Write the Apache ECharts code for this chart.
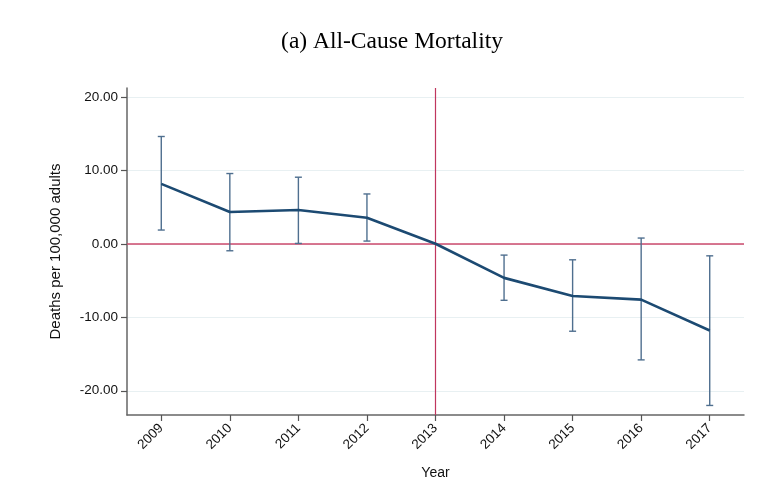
<!DOCTYPE html>
<html>
<head>
<meta charset="utf-8">
<script src="https://cdn.jsdelivr.net/npm/echarts@6/dist/echarts.min.js"></script>
<style>html,body{margin:0;padding:0;background:#fff;}#c{width:784px;height:495px;}</style>
</head>
<body>
<div id="c"></div>
<script>
const years = ['2009','2010','2011','2012','2013','2014','2015','2016','2017'];
const estimate = [8.15, 4.33, 4.6, 3.55, 0, -4.64, -7.1, -7.6, -11.8];
const upper = [14.6, 9.56, 9.06, 6.78, null, -1.54, -2.18, 0.78, -1.64];
const lower = [1.87, -0.95, 0.05, 0.37, null, -7.69, -11.9, -15.8, -22.0];
const yTicks = [-20, -10, 0, 10, 20];

const chart = echarts.init(document.getElementById('c'), null, {renderer: 'canvas'});
const errData = years.map((y, i) => [i, lower[i], upper[i]]).filter(d => d[1] !== null);

chart.setOption({
  backgroundColor: '#fff',
  animation: false,
  title: {
    text: '(a) All-Cause Mortality',
    left: 'center',
    top: 25,
    textStyle: {fontFamily: 'Liberation Serif', fontSize: 23.5, fontWeight: 'normal', color: '#000'}
  },
  grid: {left: 127, right: 40, top: 88, bottom: 80},
  xAxis: {
    type: 'category',
    data: years,
    boundaryGap: true,
    name: 'Year',
    nameLocation: 'middle',
    nameGap: 51,
    nameTextStyle: {fontFamily: 'Liberation Sans', fontSize: 14, color: '#111'},
    axisLine: {onZero: false, lineStyle: {color: '#666', width: 1.5}},
    axisTick: {show: true, alignWithLabel: true, length: 6, lineStyle: {color: '#555', width: 1.2}},
    axisLabel: {rotate: 45, fontFamily: 'Liberation Sans', fontSize: 13.5, color: '#111', margin: 11},
    splitLine: {show: false}
  },
  yAxis: {
    type: 'value',
    min: -23.3,
    max: 21.2,
    name: 'Deaths per 100,000 adults',
    nameLocation: 'middle',
    nameGap: 64,
    nameTextStyle: {fontFamily: 'Liberation Sans', fontSize: 15, color: '#111'},
    axisLine: {show: true, onZero: false, lineStyle: {color: '#666', width: 1.5}},
    axisTick: {show: true, length: 6, customValues: yTicks, lineStyle: {color: '#555', width: 1.2}},
    axisLabel: {customValues: yTicks, fontFamily: 'Liberation Sans', fontSize: 13.5, color: '#111', margin: 9,
      formatter: v => v.toFixed(2)},
    splitLine: {show: true, lineStyle: {color: '#e8f0f2', width: 1}}
  },
  series: [
    {
      type: 'custom',
      z: 3,
      data: errData,
      renderItem: function (params, api) {
        const x = api.value(0);
        const lo = api.coord([x, api.value(1)]);
        const hi = api.coord([x, api.value(2)]);
        const cw = 3.5;
        const style = {stroke: '#4f6f8f', lineWidth: 1.4};
        return {type: 'group', children: [
          {type: 'line', shape: {x1: lo[0], y1: lo[1], x2: hi[0], y2: hi[1]}, style: style},
          {type: 'line', shape: {x1: lo[0]-cw, y1: lo[1], x2: lo[0]+cw, y2: lo[1]}, style: style},
          {type: 'line', shape: {x1: hi[0]-cw, y1: hi[1], x2: hi[0]+cw, y2: hi[1]}, style: style}
        ]};
      }
    },
    {
      type: 'line',
      z: 4,
      data: estimate,
      symbol: 'none',
      lineStyle: {color: '#1c4a72', width: 2.6},
      markLine: {
        silent: true,
        symbol: 'none',
        label: {show: false},
        z: 2,
        data: [
          {yAxis: 0, lineStyle: {color: '#cc4a6c', width: 1.6, type: 'solid'}},
          {xAxis: '2013', lineStyle: {color: '#c0365e', width: 1.2, type: 'solid'}}
        ]
      }
    }
  ]
});
</script>
</body>
</html>
